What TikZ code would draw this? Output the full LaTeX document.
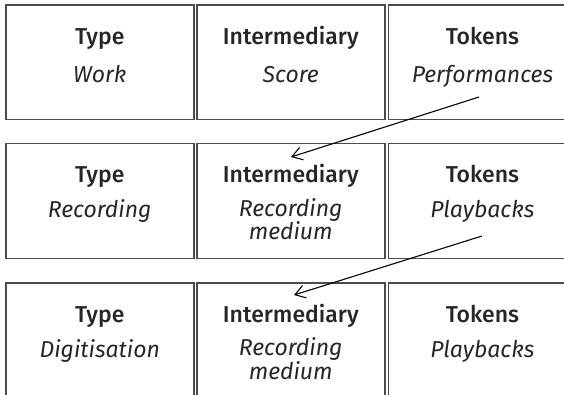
\documentclass[tikz,border=0pt]{standalone}
\usepackage{fontspec}
\setmainfont{Fira Sans}[BoldFont={Fira Sans Medium}]
\usetikzlibrary{arrows.meta,calc}

\tikzset{
  cell/.style={draw=black!70, line width=1.5pt, minimum width=188pt,
    minimum height=114.5pt, inner sep=0pt, anchor=north west},
  head/.style={anchor=base, inner sep=0pt, text=black!85,
    font=\fontsize{23}{24}\selectfont\bfseries},
  sub/.style={anchor=base, inner sep=0pt, text=black!85, align=center,
    font=\fontsize{23}{21}\selectfont\itshape},
  link/.style={line width=1.1pt, -{Straight Barb[length=10pt,width=13pt,line width=1.1pt]}}
}

\begin{document}
\begin{tikzpicture}[x=1pt, y=-1pt]
\useasboundingbox (0,0) rectangle (564,395);
\clip (0,0) rectangle (564,395);

% three rows of type / intermediary / tokens cells
\foreach \r/\top in {1/4.5, 2/143, 3/282}{
  \node[cell] (ty\r) at (5,\top) {};
  \node[cell] (in\r) at (196,\top) {};
  \node[cell] (tk\r) at (387.7,\top) {};
  \node[head] (tyh\r) at ($(ty\r.north)+(0,40)$) {Type};
  \node[head] (inh\r) at ($(in\r.north)+(0,40)$) {Intermediary};
  \node[head] (tkh\r) at ($(tk\r.north)+(0,40)$) {Tokens};
}

\node[sub] (tys1) at ($(ty1.north)+(0,78)$) {Work};
\node[sub] (ins1) at ($(in1.north)+(0,78)$) {Score};
\node[sub] (tks1) at ($(tk1.north)+(0,78)$) {Performances};

% two-line labels are placed by the baseline of their last line
\node[sub] (tys2) at ($(ty2.north)+(0,75)$) {Recording};
\node[sub] (ins2) at ($(in2.north)+(0,97)$) {Recording\\medium};
\node[sub] (tks2) at ($(tk2.north)+(0,75)$) {Playbacks};

\node[sub] (tys3) at ($(ty3.north)+(0,75)$) {Digitisation};
\node[sub] (ins3) at ($(in3.north)+(0,97)$) {Recording\\medium};
\node[sub] (tks3) at ($(tk3.north)+(0,75)$) {Playbacks};

% arrows from each row's tokens to the next row's intermediary
\coordinate (from1) at (479,97);
\coordinate (to1) at (291,157);
\coordinate (from2) at (482,236);
\coordinate (to2) at (294,295);
\draw[link] (from1) -- (to1);
\draw[link] (from2) -- (to2);
\end{tikzpicture}
\end{document}
